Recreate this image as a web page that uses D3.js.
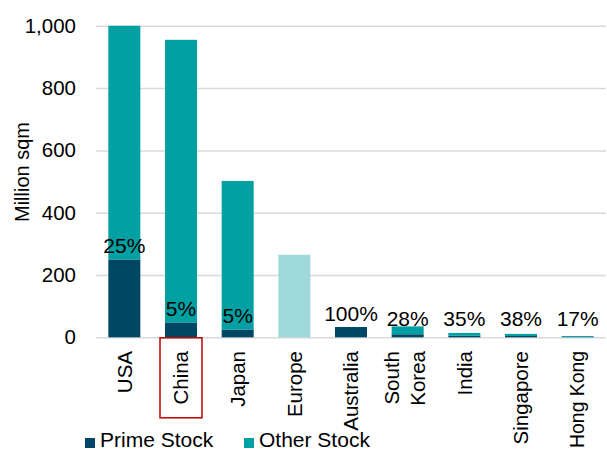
<!DOCTYPE html>
<html>
<head>
<meta charset="utf-8">
<script src="https://cdn.jsdelivr.net/npm/d3@7/dist/d3.min.js"></script>
<style>
  html, body { margin: 0; padding: 0; background: #fff; }
  svg { display: block; font-family: "Liberation Sans", Arial, sans-serif; }
</style>
</head>
<body>
<svg id="chart" width="607" height="452"></svg>
<script>
// Office stock by market (million sqm) and the share of it that is prime
const categories = ["USA", "China", "Japan", "Europe", "Australia", "South Korea", "India", "Singapore", "Hong Kong"];
const totalStock = [1000, 955, 502, 265, 33, 35, 14, 11, 4];
// Prime share of total stock; null where no prime/other split is available
const primeShare = [0.25, 0.05, 0.05, null, 1.00, 0.28, 0.35, 0.38, 0.17];
const yTicks = [0, 200, 400, 600, 800, 1000];
const seriesNames = ["Prime Stock", "Other Stock"];
const highlighted = "China";

const colors = { prime: "#004766", other: "#00a0a3", unsplit: "#9fd9da", grid: "#d9d9d9", text: "#000" };

const svg = d3.select("#chart");
const margin = { left: 96, right: 1 };
const W = 607, H = 452;
const plotW = W - margin.left - margin.right;
const y0 = 337.3, y1 = 25.8;

const x = d3.scaleBand().domain(categories).range([margin.left, margin.left + plotW])
  .paddingInner(0.435).paddingOuter(0.2175);
const y = d3.scaleLinear().domain([0, 1000]).range([y0, y1]);

const rows = categories.map((c, i) => {
  const share = primeShare[i];
  const total = totalStock[i];
  const prime = share == null ? 0 : total * share;
  return { cat: c, total, share, prime, other: share == null ? 0 : total - prime, unsplit: share == null ? total : 0 };
});

// gridlines and y tick labels
const yAxis = d3.axisLeft(y).tickValues(yTicks).tickSize(-plotW).tickPadding(20)
  .tickFormat(d3.format(","));
const gy = svg.append("g").attr("transform", `translate(${margin.left},0)`).call(yAxis);
gy.select(".domain").remove();
gy.selectAll(".tick line").attr("stroke", colors.grid).attr("stroke-width", 1.5);
gy.selectAll(".tick text").attr("fill", colors.text).style("font-size", "20.5px")
  .style("font-family", "Liberation Sans, Arial, sans-serif");

// y axis title
svg.append("text")
  .attr("transform", "translate(29,172) rotate(-90)")
  .attr("text-anchor", "middle")
  .style("font-size", "20px")
  .text("Million sqm");

const bw = x.bandwidth();
const bars = svg.append("g");
// prime (bottom) segment
bars.selectAll("rect.prime").data(rows.filter(d => d.prime > 0)).join("rect")
  .attr("class", "prime")
  .attr("x", d => x(d.cat)).attr("width", bw)
  .attr("y", d => y(d.prime)).attr("height", d => y(0) - y(d.prime))
  .attr("fill", colors.prime);
// other (top) segment
bars.selectAll("rect.other").data(rows.filter(d => d.other > 0)).join("rect")
  .attr("class", "other")
  .attr("x", d => x(d.cat)).attr("width", bw)
  .attr("y", d => y(d.prime + d.other)).attr("height", d => y(d.prime) - y(d.prime + d.other))
  .attr("fill", colors.other);
// total without split
bars.selectAll("rect.unsplit").data(rows.filter(d => d.unsplit > 0)).join("rect")
  .attr("class", "unsplit")
  .attr("x", d => x(d.cat)).attr("width", bw)
  .attr("y", d => y(d.unsplit)).attr("height", d => y(0) - y(d.unsplit))
  .attr("fill", colors.unsplit);

// prime share labels, sitting on the prime segment
svg.append("g").selectAll("text").data(rows.filter(d => d.share != null)).join("text")
  .attr("x", d => x(d.cat) + bw / 2)
  .attr("y", d => Math.min(y(d.prime) - 6, y(0) - 11))
  .attr("text-anchor", "middle")
  .style("font-size", "21px")
  .text(d => d3.format(".0%")(d.share));

// category labels, rotated; long ones shrink to stay inside the canvas
const labelTop = 351;
const maxLen = H - labelTop - 4;
const cg = svg.append("g");
categories.forEach(c => {
  const cx = x(c) + bw / 2;
  const words = c === "South Korea" ? ["South", "Korea"] : [c];
  const t = cg.append("text")
    .attr("transform", `translate(${cx},${labelTop}) rotate(-90)`)
    .attr("text-anchor", "end")
    .style("font-size", "20.5px");
  words.forEach((w, i) => {
    const off = words.length === 1 ? 0 : (i === 0 ? -16 : 10);
    t.append("tspan").attr("x", 0).attr("y", off).attr("dy", "0.35em").text(w);
  });
  const len = t.node().getBBox().width;
  if (len > maxLen) t.style("font-size", (20.5 * maxLen / len).toFixed(2) + "px");
});

// highlight box round one category label
const hx = x(highlighted) + bw / 2;
svg.append("rect")
  .attr("x", hx - 21).attr("y", 337.8)
  .attr("width", 42).attr("height", 80)
  .attr("fill", "none").attr("stroke", "#c00000").attr("stroke-width", 1.5);

// legend
const legend = svg.append("g");
const legendX = [85, 244];
[colors.prime, colors.other].forEach((col, i) => {
  legend.append("rect").attr("x", legendX[i]).attr("y", 438).attr("width", 10).attr("height", 10).attr("fill", col);
  legend.append("text").attr("x", legendX[i] + 15).attr("y", 447).style("font-size", "21px").text(seriesNames[i]);
});
</script>
</body>
</html>
